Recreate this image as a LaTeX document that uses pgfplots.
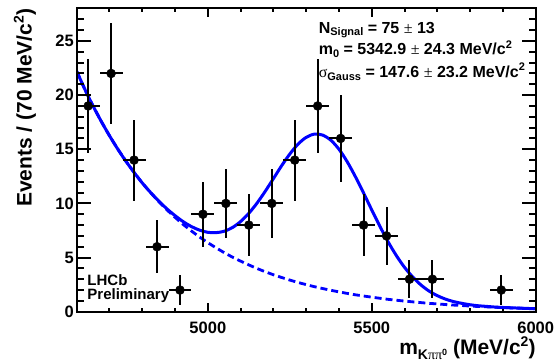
\documentclass[border=0pt]{standalone}
\usepackage{fontspec}
\setmainfont{Liberation Sans}
\newfontfamily\symf{Liberation Serif}
\usepackage{pgfplots}
\usepackage{pgfplotstable}
\pgfplotsset{compat=1.18}
\definecolor{rootblue}{RGB}{0,0,255}

\pgfplotstableread{
x y ex ey
4635 19 35 4.359
4705 22 35 4.690
4775 14 35 3.742
4845 6 35 2.449
4915 2 35 1.414
4985 9 35 3.000
5055 10 35 3.162
5125 8 35 2.828
5195 10 35 3.162
5265 14 35 3.742
5335 19 35 4.359
5405 16 35 4.000
5475 8 35 2.828
5545 7 35 2.646
5615 3 35 1.732
5685 3 35 1.732
5895 2 35 1.414
}\datatable

\pgfplotstableread{
x y
4600 22.20
4625 20.53
4650 18.99
4675 17.57
4700 16.25
4725 15.03
4750 13.90
4775 12.86
4800 11.89
4825 11.00
4850 10.18
4875 9.41
4900 8.71
4925 8.05
4950 7.45
4975 6.89
5000 6.37
5025 5.90
5050 5.45
5075 5.04
5100 4.67
5125 4.32
5150 3.99
5175 3.69
5200 3.41
5225 3.16
5250 2.92
5275 2.70
5300 2.50
5325 2.31
5350 2.14
5375 1.98
5400 1.83
5425 1.69
5450 1.56
5475 1.45
5500 1.34
5525 1.24
5550 1.14
5575 1.06
5600 0.98
5625 0.91
5650 0.84
5675 0.77
5700 0.72
5725 0.66
5750 0.61
5775 0.57
5800 0.52
5825 0.48
5850 0.45
5875 0.41
5900 0.38
5925 0.35
5950 0.33
5975 0.30
6000 0.28
}\bgtable

\pgfplotstableread{
x y
4600 22.20
4625 20.53
4650 18.99
4675 17.57
4700 16.25
4725 15.03
4750 13.90
4775 12.86
4800 11.89
4825 11.02
4850 10.23
4875 9.50
4900 8.87
4925 8.31
4950 7.86
4975 7.53
5000 7.33
5025 7.30
5050 7.43
5075 7.77
5100 8.33
5125 9.09
5150 10.03
5175 11.12
5200 12.29
5225 13.48
5250 14.56
5275 15.47
5300 16.10
5325 16.40
5350 16.31
5375 15.84
5400 15.00
5425 13.85
5450 12.47
5475 10.96
5500 9.39
5525 7.87
5550 6.44
5575 5.18
5600 4.09
5625 3.20
5650 2.47
5675 1.90
5700 1.48
5725 1.16
5750 0.93
5775 0.77
5800 0.64
5825 0.55
5850 0.49
5875 0.43
5900 0.39
5925 0.36
5950 0.33
5975 0.30
6000 0.28
}\totaltable

\begin{document}
\begin{tikzpicture}
\pgfplotsset{
  common/.style={
    scale only axis, width=459bp, height=303.2bp,
    xmin=4600, xmax=6000, ymin=0, ymax=28,
    axis line style={line width=2bp},
    tick style={line width=2bp, black},
    tick align=inside,
    /pgf/number format/assume math mode=true,
    /pgf/number format/set thousands separator={},
    tick label style={font=\bfseries\fontsize{16.5bp}{19bp}\selectfont},
  }
}
\begin{axis}[common,
  clip mode=individual,
  xtick={5000,5500,6000}, minor xtick={4600,4700,...,6000},
  ytick=\empty,
  major tick length=9bp, minor tick length=4bp,
  xticklabel style={anchor=base, yshift=-21.6bp},
]
\addplot[rootblue, line width=2.8bp, dash pattern=on 7bp off 4bp, no marks] table {\bgtable};
\addplot[rootblue, line width=3bp, no marks, smooth] table {\totaltable};
\addplot[black, only marks, mark=*, mark size=4.5bp, mark options={fill=black, draw=black},
  error bars/.cd, x dir=both, x explicit, y dir=both, y explicit,
  error bar style={line width=2bp, black}, error mark=none]
  table[x=x, y=y, x error=ex, y error=ey] {\datatable};

\node[anchor=base west, inner sep=0pt, font=\bfseries\fontsize{16bp}{19bp}\selectfont]
  at (rel axis cs:0.527,0.918) {N\raisebox{-2bp}{\fontsize{11bp}{12bp}\selectfont Signal} = 75 {\symf\mdseries ±} 13};
\node[anchor=base west, inner sep=0pt, font=\bfseries\fontsize{16bp}{19bp}\selectfont]
  at (rel axis cs:0.527,0.848) {m\raisebox{-2.5bp}{\fontsize{11bp}{12bp}\selectfont 0} = 5342.9 {\symf\mdseries ±} 24.3 MeV/c\raisebox{6.5bp}{\fontsize{11bp}{12bp}\selectfont 2}};
\node[anchor=base west, inner sep=0pt, font=\bfseries\fontsize{16bp}{19bp}\selectfont]
  at (rel axis cs:0.527,0.773) {{\symf\mdseries σ}\raisebox{-3bp}{\fontsize{11bp}{12bp}\selectfont Gauss} = 147.6 {\symf\mdseries ±} 23.2 MeV/c\raisebox{6.5bp}{\fontsize{11bp}{12bp}\selectfont 2}};

\node[anchor=base west, inner sep=0pt, font=\bfseries\fontsize{15bp}{18bp}\selectfont]
  at (rel axis cs:0.023,0.088) {LHCb};
\node[anchor=base west, inner sep=0pt, font=\bfseries\fontsize{15bp}{18bp}\selectfont]
  at (rel axis cs:0.023,0.0386) {Preliminary};

\coordinate (bbsw) at (rel axis cs:-0.1671,-0.1659);
\coordinate (bbne) at (rel axis cs:1.0420,1.0280);
\coordinate (xl) at (rel axis cs:1,-0.141);
\coordinate (yl) at (rel axis cs:-0.098,1);
\end{axis}
\begin{axis}[common,
  xtick=\empty,
  ytick={0,5,...,25}, minor ytick={0,1,...,28},
  major tick length=14bp, minor tick length=7bp,
  yticklabel style={anchor=east, inner sep=0pt, xshift=-2.7bp},
]
\end{axis}
\node[anchor=base east, inner sep=0pt, font=\bfseries\fontsize{21bp}{24bp}\selectfont]
  at (xl) {m\raisebox{-5bp}{\fontsize{14bp}{16bp}\selectfont K{\symf\mdseries ππ}\raisebox{4bp}{\fontsize{9bp}{10bp}\selectfont 0}} (MeV/c\raisebox{8bp}{\fontsize{14bp}{16bp}\selectfont 2})};
\node[anchor=base east, inner sep=0pt, rotate=90, font=\bfseries\fontsize{21bp}{24bp}\selectfont]
  at (yl) {Events / (70 MeV/c\raisebox{8bp}{\fontsize{14bp}{16bp}\selectfont 2})};
\pgfresetboundingbox
\path[use as bounding box] (bbsw) rectangle (bbne);
\end{tikzpicture}
\end{document}
